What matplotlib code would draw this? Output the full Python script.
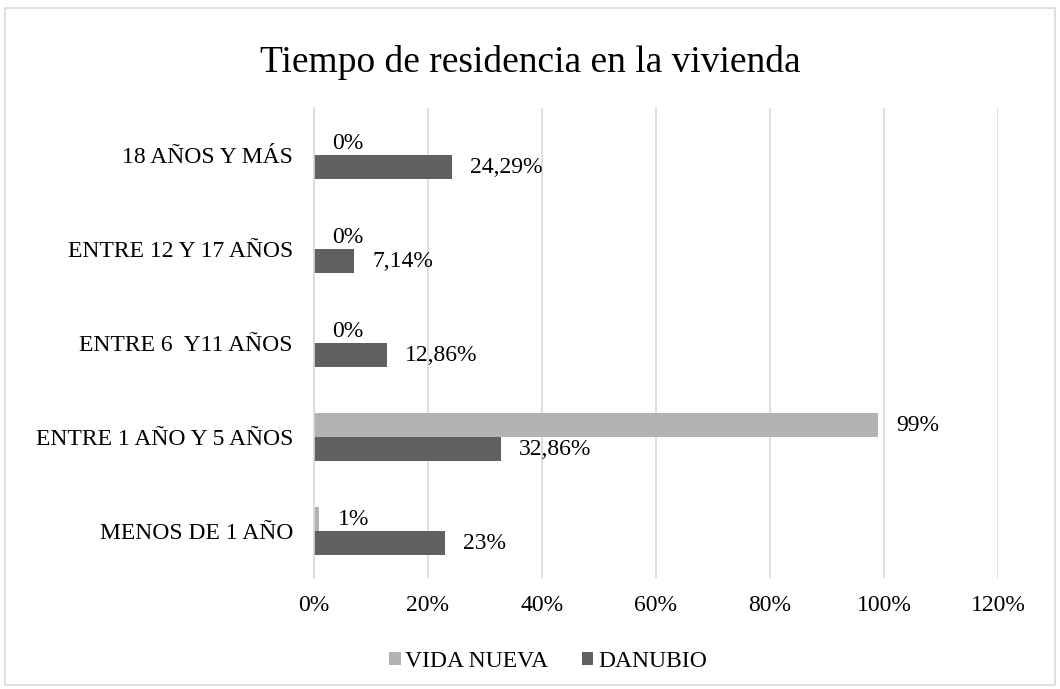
import numpy as np
import matplotlib.pyplot as plt
from matplotlib.patches import Rectangle

plt.rcParams['font.family'] = ['Liberation Serif', 'DejaVu Serif']

# data
categories = ['MENOS DE 1 AÑO', 'ENTRE 1 AÑO Y 5 AÑOS', 'ENTRE 6  Y11 AÑOS',
              'ENTRE 12 Y 17 AÑOS', '18 AÑOS Y MÁS']
vida_nueva = [1, 99, 0, 0, 0]
danubio = [23, 32.86, 12.86, 7.14, 24.29]
vida_labels = ['1%', '99%', '0%', '0%', '0%']
danubio_labels = ['23%', '32,86%', '12,86%', '7,14%', '24,29%']

fig = plt.figure(figsize=(10.6, 6.89), dpi=100)
ax = fig.add_axes([0.296, 0.161, 0.6455, 0.682])

y = np.arange(len(categories))
h = 0.255
c_vn = '#b3b3b3'
c_da = '#606060'

b1 = ax.barh(y + h / 2, vida_nueva, height=h, color=c_vn, label='VIDA NUEVA')
b2 = ax.barh(y - h / 2, danubio, height=h, color=c_da, label='DANUBIO')

for bars, labels in [(b1, vida_labels), (b2, danubio_labels)]:
    for bar, lab in zip(bars, labels):
        ax.annotate(lab, (bar.get_width(), bar.get_y() + bar.get_height() / 2),
                    xytext=(13, 0), textcoords='offset points', va='center',
                    ha='left', fontsize=17)

ax.set_xlim(0, 120)
ax.set_ylim(-0.5, len(categories) - 0.5)
ax.set_xticks(np.arange(0, 121, 20))
ax.set_xticklabels([f'{v}%' for v in range(0, 121, 20)], fontsize=17)
ax.set_yticks(y)
ax.set_yticklabels(categories, fontsize=17)
ax.tick_params(length=0, pad=12)
ax.tick_params(axis='y', pad=15)
ax.grid(axis='x', color='#d9d9d9', linewidth=1.2)
ax.set_axisbelow(True)
for s in ['top', 'right', 'bottom']:
    ax.spines[s].set_visible(False)
ax.spines['left'].set_color('#d9d9d9')
ax.spines['left'].set_linewidth(1.2)

fig.suptitle('Tiempo de residencia en la vivienda', fontsize=27, y=0.935)

fig.legend(handles=[b1, b2], loc='center', bbox_to_anchor=(0.517, 0.04),
           ncol=2, frameon=False, fontsize=17, handlelength=0.5,
           handleheight=0.5, handletextpad=0.2, columnspacing=1.4)

# outer border
fig.patches.append(Rectangle((0.005, 0.006), 0.99, 0.982, transform=fig.transFigure,
                             fill=False, edgecolor='#d9d9d9', linewidth=1.2))

fig.savefig('out.png')
